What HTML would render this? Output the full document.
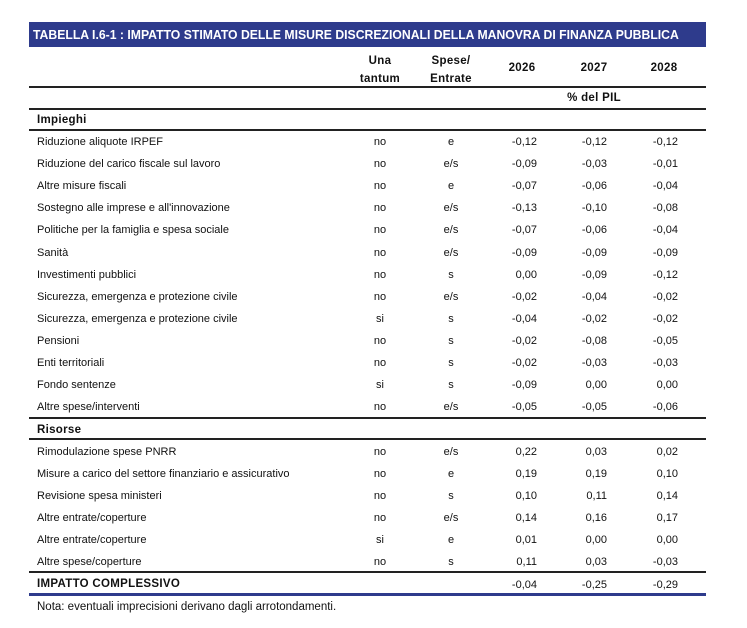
<!DOCTYPE html>
<html><head><meta charset="utf-8"><style>
body{margin:0;background:#fff;width:747px;height:628px;position:relative;overflow:hidden;font-family:"Liberation Sans",Arial,sans-serif;color:#111}
.t{position:absolute;font-size:11px;line-height:13px;white-space:nowrap}
.c{transform:translateX(-50%)}
.r{transform:translateX(-100%)}
.h{font-size:11.5px;font-weight:bold;letter-spacing:0.3px}
.ln{position:absolute;left:29px;width:677px;background:#222}
</style></head><body>
<div style="position:absolute;left:29px;top:22px;width:677px;height:25px;background:#2e3b8c"></div>
<div class="t" style="left:33px;top:28px;color:#fff;font-weight:bold;font-size:13px;transform:scaleX(0.94);transform-origin:left">TABELLA I.6-1 : IMPATTO STIMATO DELLE MISURE DISCREZIONALI DELLA MANOVRA DI FINANZA PUBBLICA</div>
<div class="t c h" style="left:380px;top:52px;text-align:center;line-height:18px">Una<br>tantum</div>
<div class="t c h" style="left:451px;top:52px;text-align:center;line-height:18px">Spese/<br>Entrate</div>
<div class="t c h" style="left:522px;top:62px">2026</div>
<div class="t c h" style="left:594px;top:62px">2027</div>
<div class="t c h" style="left:664px;top:62px">2028</div>
<div class="ln" style="top:86px;height:2px"></div>
<div class="t c h" style="left:594px;top:92px">% del PIL</div>
<div class="ln" style="top:108px;height:2px"></div>
<div class="t h" style="left:37px;top:114px">Impieghi</div>
<div class="ln" style="top:129px;height:1.5px"></div>
<div class="ln" style="top:417px;height:2px"></div>
<div class="t h" style="left:37px;top:424px">Risorse</div>
<div class="ln" style="top:438px;height:1.5px"></div>
<div class="ln" style="top:571px;height:2px"></div>
<div class="t h" style="left:37px;top:578px">IMPATTO COMPLESSIVO</div>
<div class="ln" style="top:593px;height:3px;background:#2e3b8c"></div>
<div class="t" style="left:37px;top:601px;font-size:11.5px">Nota: eventuali imprecisioni derivano dagli arrotondamenti.</div>
<script>
const labels=["Riduzione aliquote IRPEF","Riduzione del carico fiscale sul lavoro","Altre misure fiscali","Sostegno alle imprese e all'innovazione","Politiche per la famiglia e spesa sociale","Sanità","Investimenti pubblici","Sicurezza, emergenza e protezione civile","Sicurezza, emergenza e protezione civile","Pensioni","Enti territoriali","Fondo sentenze","Altre spese/interventi","Rimodulazione spese PNRR","Misure a carico del settore finanziario e assicurativo","Revisione spesa ministeri","Altre entrate/coperture","Altre entrate/coperture","Altre spese/coperture"];
const unaTantum=["no","no","no","no","no","no","no","no","si","no","no","si","no","no","no","no","no","si","no"];
const speseEntrate=["e","e/s","e","e/s","e/s","e/s","s","e/s","s","s","s","s","e/s","e/s","e","s","e/s","e","s"];
const v2026=["-0,12","-0,09","-0,07","-0,13","-0,07","-0,09","0,00","-0,02","-0,04","-0,02","-0,02","-0,09","-0,05","0,22","0,19","0,10","0,14","0,01","0,11"];
const v2027=["-0,12","-0,03","-0,06","-0,10","-0,06","-0,09","-0,09","-0,04","-0,02","-0,08","-0,03","0,00","-0,05","0,03","0,19","0,11","0,16","0,00","0,03"];
const v2028=["-0,12","-0,01","-0,04","-0,08","-0,04","-0,09","-0,12","-0,02","-0,02","-0,05","-0,03","0,00","-0,06","0,02","0,10","0,14","0,17","0,00","-0,03"];
const totals=["-0,04","-0,25","-0,29"];
function mk(txt,cls,x,y){const d=document.createElement('div');d.className='t '+cls;d.textContent=txt;d.style.left=x+'px';d.style.top=y+'px';document.body.appendChild(d);return d;}
labels.forEach((l,i)=>{
  const y=(i<13?141+i*22.1:451+(i-13)*22)-5;
  let d=mk(l,'',37,y);
  
  
  d=mk(unaTantum[i],'c',380,y);
  
  
  d=mk(speseEntrate[i],'c',451,y);
  
  
  d=mk(v2026[i],'r',537,y);
  
  
  d=mk(v2027[i],'r',607,y);
  
  
  d=mk(v2028[i],'r',678,y);
  
  
});
[537,607,678].forEach((x,j)=>{
  const d=mk(totals[j],'r',x,579);
  
  
});
</script>
</body></html>
